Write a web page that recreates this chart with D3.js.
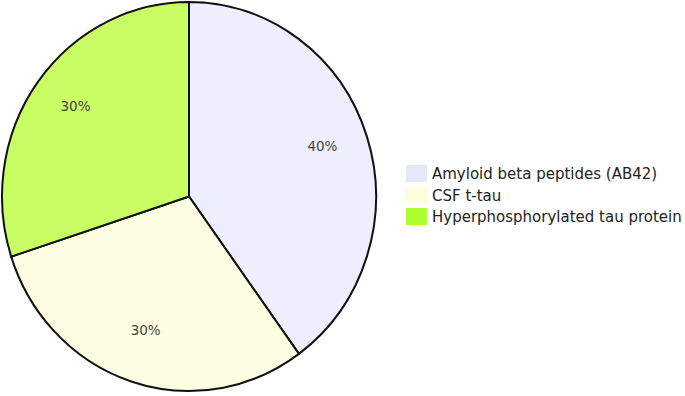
<!DOCTYPE html>
<html>
<head>
<meta charset="utf-8">
<script src="https://cdn.jsdelivr.net/npm/d3@7"></script>
<style>
  body { margin: 0; background: #fff; }
  text { font-family: "DejaVu Sans", Verdana, sans-serif; }
</style>
</head>
<body>
<div id="chart"></div>
<script>
const categories = ['Amyloid beta peptides (AB42)', 'CSF t-tau', 'Hyperphosphorylated tau protein'];
const values = [40, 30, 30];
const sliceColors = ['#eeeeff', '#fefee2', '#c8fe64'];
const legendColors = ['#e6e6fa', '#fffde0', '#adff2f'];

const width = 685, height = 396;
const cx = 189, cy = 196.5;
const rx = 187, ry = 194.5;

const svg = d3.select('#chart').append('svg')
    .attr('width', width)
    .attr('height', height);

const data = categories.map((c, i) => ({ name: c, value: values[i], i: i }));

const pie = d3.pie()
    .sort(null)
    .value(d => d.value);

const arcs = pie(data);

const arc = d3.arc()
    .innerRadius(0)
    .outerRadius(rx);

const labelArc = d3.arc()
    .innerRadius(rx * 0.75)
    .outerRadius(rx * 0.75);

// the pie in the picture is a little taller than wide
const pieG = svg.append('g')
    .attr('transform', `translate(${cx},${cy}) scale(1,${ry / rx})`);

pieG.selectAll('path')
    .data(arcs)
    .join('path')
    .attr('d', arc)
    .attr('fill', d => sliceColors[d.data.i])
    .attr('stroke', '#111')
    .attr('stroke-width', 2)
    .attr('vector-effect', 'non-scaling-stroke');

svg.append('g')
    .attr('transform', `translate(${cx},${cy})`)
    .selectAll('text')
    .data(arcs)
    .join('text')
    .attr('x', d => labelArc.centroid(d)[0])
    .attr('y', d => labelArc.centroid(d)[1] * ry / rx)
    .attr('text-anchor', 'middle')
    .attr('font-size', 13.5)
    .attr('fill', '#444')
    .text(d => d.data.value + '%');

// legend
const legend = svg.append('g')
    .attr('transform', 'translate(406,165)');

const item = legend.selectAll('g')
    .data(data)
    .join('g')
    .attr('transform', d => `translate(0,${d.i * 21.5})`);

item.append('rect')
    .attr('width', 21)
    .attr('height', 17)
    .attr('fill', d => legendColors[d.i]);

item.append('text')
    .attr('x', 26)
    .attr('y', 14)
    .attr('font-size', 15)
    .attr('fill', '#222')
    .text(d => d.name);
</script>
</body>
</html>
